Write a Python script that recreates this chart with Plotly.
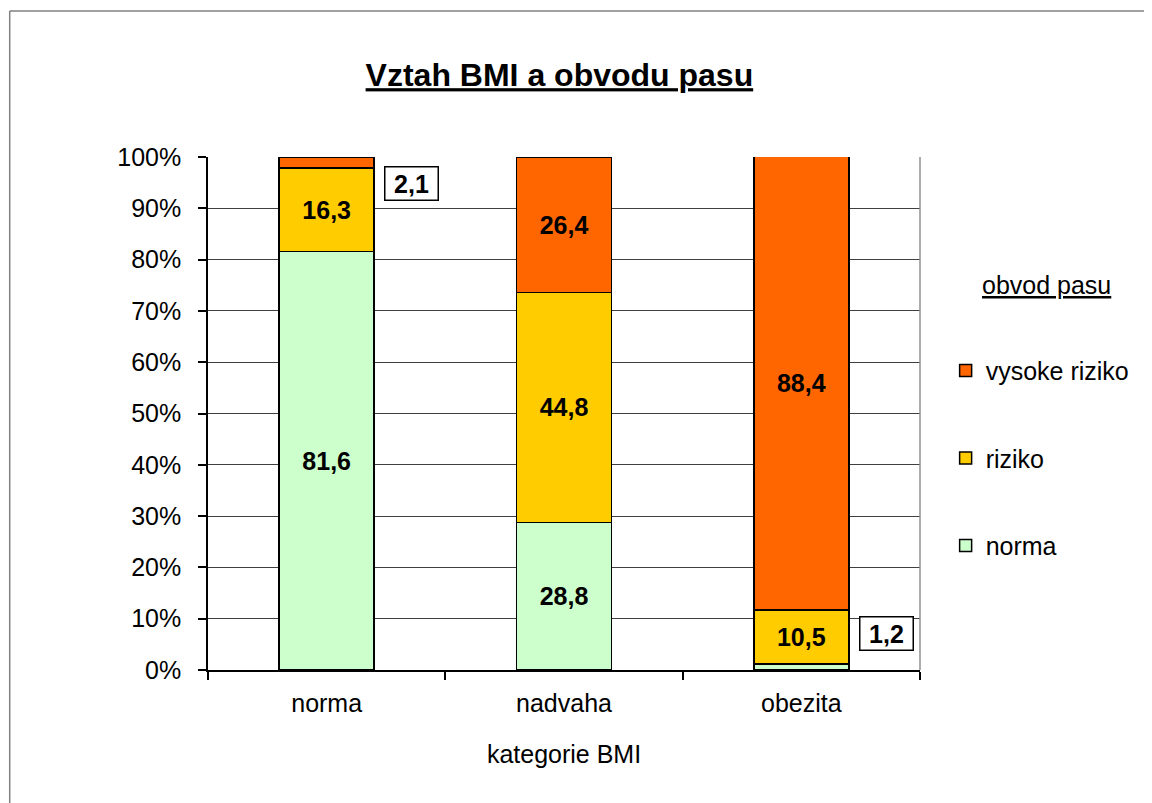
import plotly.graph_objects as go

categories = ["norma", "nadvaha", "obezita"]
series_names = ["norma", "riziko", "vysoke riziko"]
norma_vals = [81.6, 28.8, 1.2]
riziko_vals = [16.3, 44.8, 10.5]
vysoke_vals = [2.1, 26.4, 88.4]
colors = ["#CCFFCC", "#FFCC00", "#FF6600"]
y_ticks = [0, 10, 20, 30, 40, 50, 60, 70, 80, 90, 100]
y_tick_labels = [f"{t}%" for t in y_ticks]

FONT = "Arial, Liberation Sans, sans-serif"
all_series = [norma_vals, riziko_vals, vysoke_vals]


def fmt(v):
    return f"{v:.1f}".replace(".", ",")


fig = go.Figure()
for i, (name, vals, col) in enumerate(zip(series_names, all_series, colors)):
    fig.add_trace(go.Bar(
        x=categories, y=vals, name=name,
        marker=dict(color=col, line=dict(color="black", width=1.5)),
        text=[fmt(v) if v >= 5 else "" for v in vals],
        textposition="inside", insidetextanchor="middle", textangle=0,
        constraintext="none",
        textfont=dict(family=FONT, size=25, color="black", weight="bold"),
        legendgroup=name, legendrank=len(series_names) - i, width=0.4,
        hoverinfo="skip",
    ))

# Boxed labels for the small segments, placed beside the bars
small = []
for si, vals in enumerate(all_series):
    for ci, v in enumerate(vals):
        if v < 5:
            base = sum(all_series[k][ci] for k in range(si))
            small.append((ci, si, v, base + v / 2))
for ci, si, v, ymid in small:
    fig.add_annotation(
        x=categories[ci], y=ymid, xref="x", yref="y",
        text=f"<b>{fmt(v)}</b>", showarrow=False,
        xshift=85, yshift=(-21 if ymid > 50 else 33),
        width=46, height=26, align="center", valign="middle",
        font=dict(family=FONT, size=25, color="black"),
        bgcolor="white", bordercolor="black", borderwidth=1.5, borderpad=3,
    )

# legend title
fig.add_annotation(
    x=1.177, y=0.7505, xref="paper", yref="paper", xanchor="center", yanchor="middle",
    text="<u>obvod pasu</u>", showarrow=False,
    font=dict(family=FONT, size=25, color="black"),
)

shapes = [
    # outer frame (top and left)
    dict(type="line", xref="paper", yref="paper", x0=-0.2785, x1=1.4, y0=1.2846, y1=1.2846,
         line=dict(color="#808080", width=1.5)),
    dict(type="line", xref="paper", yref="paper", x0=-0.2785, x1=-0.2785, y0=1.2846, y1=-0.4,
         line=dict(color="#808080", width=1.5)),
    # right border of the plot area
    dict(type="line", xref="paper", yref="paper", x0=1, x1=1, y0=0, y1=1,
         line=dict(color="#909090", width=1.5)),
]

fig.update_layout(
    width=1144, height=795,
    margin=dict(l=200, r=232, t=149, b=133),
    paper_bgcolor="white", plot_bgcolor="white",
    barmode="stack", bargap=0.6,
    font=dict(family=FONT, size=25, color="black"),
    title=dict(text="<b><u>Vztah BMI a obvodu pasu</u></b>", x=0.482, xanchor="center",
               y=1 - 67 / 795, yanchor="middle", yref="container",
               font=dict(family=FONT, size=32, color="black")),
    showlegend=True,
    legend=dict(x=1.036, xanchor="left", y=0.628, yanchor="top",
                traceorder="grouped", tracegroupgap=52,
                font=dict(family=FONT, size=25, color="black"),
                bgcolor="rgba(0,0,0,0)"),
    shapes=shapes,
    xaxis=dict(
        showline=True, linecolor="black", linewidth=1.5,
        ticks="outside", tickson="boundaries", ticklen=8, tickcolor="black", tickwidth=1.5,
        showgrid=False, ticklabelstandoff=10,
        tickfont=dict(family=FONT, size=25, color="black"),
        title=dict(text="kategorie BMI", standoff=30,
                   font=dict(family=FONT, size=25, color="black")),
    ),
    yaxis=dict(
        range=[0, 100], tickvals=y_ticks, ticktext=y_tick_labels,
        showline=True, linecolor="black", linewidth=1.5,
        ticks="outside", ticklen=8, tickcolor="black", tickwidth=1.5,
        showgrid=True, gridcolor="#404040", gridwidth=1,
        zeroline=False, ticklabelstandoff=12,
        tickfont=dict(family=FONT, size=25, color="black"),
    ),
)

fig.write_html("out.html")
